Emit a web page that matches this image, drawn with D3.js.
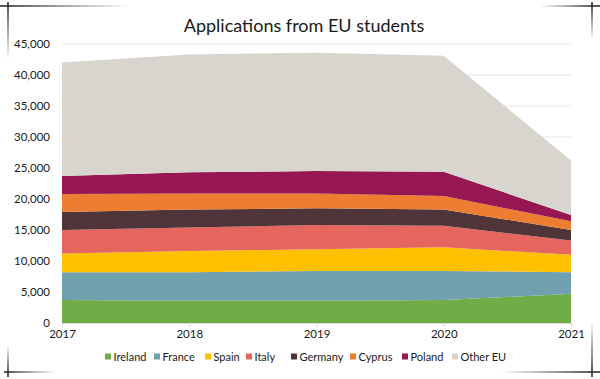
<!DOCTYPE html>
<html><head><meta charset="utf-8">
<script src="https://cdn.jsdelivr.net/npm/d3@7"></script>
<style>
html,body{margin:0;padding:0;background:#fff;}
svg{display:block;font-family:Lato, "Open Sans", sans-serif;}
</style></head>
<body><svg id="c" width="600" height="379"></svg>
<script>
const years = [2017, 2018, 2019, 2020, 2021];
const seriesNames = ["Ireland","France","Spain","Italy","Germany","Cyprus","Poland","Other EU"];
const ireland = [3700, 3600, 3600, 3700, 4700];
const france  = [4500, 4600, 4800, 4700, 3500];
const spain   = [3000, 3400, 3500, 3800, 2800];
const italy   = [3800, 3800, 3900, 3500, 2300];
const germany = [2900, 2900, 2700, 2600, 1700];
const cyprus  = [2900, 2600, 2400, 2200, 1400];
const poland  = [2900, 3400, 3600, 3900, 1000];
const otherEU = [18300, 19000, 19100, 18700, 8800];
const yTicks = [0,5000,10000,15000,20000,25000,30000,35000,40000,45000];
const colors = ["#70ad47","#71a0ae","#ffc000","#e5665e","#4f3539","#ed7d31","#961751","#d8d4ce"];

const seriesVals = [ireland, france, spain, italy, germany, cyprus, poland, otherEU];
const rows = years.map((yr,i)=>{ const r={year:yr}; seriesNames.forEach((n,k)=>r[n]=seriesVals[k][i]); return r; });

const svg = d3.select("#c");
const m = {l:62, r:29, t:44, b:56};
const W=600, H=379;
const x = d3.scaleLinear().domain([2017,2021]).range([m.l, W-m.r]);
const y = d3.scaleLinear().domain([0,45000]).range([H-m.b, m.t]);

// decorative frame corners
const defs = svg.append("defs");
function grad(id,x1,y1,x2,y2){
  const g=defs.append("linearGradient").attr("id",id).attr("gradientUnits","userSpaceOnUse")
    .attr("x1",x1).attr("y1",y1).attr("x2",x2).attr("y2",y2);
  g.append("stop").attr("offset",0).attr("stop-color","#222").attr("stop-opacity",1);
  g.append("stop").attr("offset",1).attr("stop-color","#222").attr("stop-opacity",0);
}
grad("gTL_h",8,6,130,6); grad("gTL_v",8,6,8,60);
grad("gTR_h",592,6,540,6); grad("gTR_v",592,6,592,40);
grad("gBR_h",592,372,500,372); grad("gBR_v",592,372,592,320);
grad("gBL_h",8,372,55,372); grad("gBL_v",8,372,8,345);
const fr = svg.append("g");
[["gTL_h",0,6,130,6],["gTL_v",8,2,8,60],["gTR_h",600,6,540,6],["gTR_v",592,2,592,40],
 ["gBR_h",600,372,500,372],["gBR_v",592,377,592,320],["gBL_h",4,372,55,372],["gBL_v",8,377,8,345]]
 .forEach(d=>fr.append("line").attr("x1",d[1]).attr("y1",d[2]).attr("x2",d[3]).attr("y2",d[4])
   .attr("stroke","url(#"+d[0]+")").attr("stroke-width",1.5));

// title
svg.append("text").attr("x",304).attr("y",32).attr("text-anchor","middle")
  .attr("font-size",18).attr("fill","#1a1a1a").text("Applications from EU students");

// gridlines
svg.append("g").selectAll("line").data(yTicks.filter(d=>d>0)).join("line")
  .attr("x1",m.l).attr("x2",W-m.r).attr("y1",d=>y(d)).attr("y2",d=>y(d))
  .attr("stroke","#e6e6e6").attr("stroke-width",1);

// stacked areas
const stack = d3.stack().keys(seriesNames);
const layers = stack(rows);
const area = d3.area().x(d=>x(d.data.year)).y0(d=>y(d[0])).y1(d=>y(d[1]));
svg.append("g").selectAll("path").data(layers).join("path")
  .attr("d",area).attr("fill",(d,i)=>colors[i]);

// y axis labels
const yAxis = d3.axisLeft(y).tickValues(yTicks).tickSize(0).tickPadding(12)
  .tickFormat(d=>d3.format(",")(d));
const ya = svg.append("g").attr("transform",`translate(${m.l},0)`).call(yAxis);
ya.select(".domain").remove();
ya.selectAll("text").attr("font-size",11.5).attr("fill","#1a1a1a").attr("font-family","Lato, sans-serif");

// x axis
const xAxis = d3.axisBottom(x).tickValues(years).tickFormat(d3.format("d")).tickSize(4).tickPadding(3);
const xa = svg.append("g").attr("transform",`translate(0,${H-m.b})`).call(xAxis);
xa.select(".domain").attr("stroke","#d9d9d9");
xa.selectAll(".tick line").attr("stroke","#d9d9d9");
xa.selectAll("text").attr("font-size",11.5).attr("fill","#1a1a1a").attr("font-family","Lato, sans-serif");

// legend
const legX = [105,154,205,246,291,350,402,452];
const lg = svg.append("g");
seriesNames.forEach((n,i)=>{
  const g = lg.append("g").attr("transform",`translate(${legX[i]},357)`);
  g.append("rect").attr("x",0).attr("y",-3.5).attr("width",6).attr("height",6).attr("fill",colors[i]);
  g.append("text").attr("x",8.5).attr("y",4).attr("font-size",11).attr("fill","#1a1a1a").text(n);
});
</script></body></html>
